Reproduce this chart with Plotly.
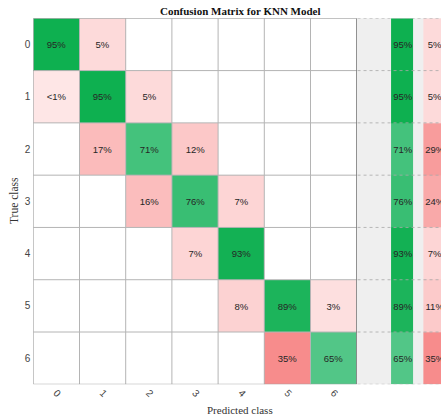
import plotly.graph_objects as go

# Class labels (true rows / predicted columns)
classes = ["0", "1", "2", "3", "4", "5", "6"]

# Row-normalised confusion matrix in percent (None = no samples)
cm_pct = [
    [95, 5, None, None, None, None, None],
    [0.5, 95, 5, None, None, None, None],
    [None, 17, 71, 12, None, None, None],
    [None, None, 16, 76, 7, None, None],
    [None, None, None, 7, 93, None, None],
    [None, None, None, None, 8, 89, 3],
    [None, None, None, None, None, 35, 65],
]

# Row summary: correctly / incorrectly classified share per true class
row_correct = [95, 95, 71, 76, 93, 89, 65]
row_incorrect = [5, 5, 29, 24, 7, 11, 35]

W, H = 441, 419
n = len(classes)


def pct_label(v):
    if v is None:
        return ""
    return "<1%" if v < 1 else f"{round(v)}%"


diag_z = [[v if i == j else None for j, v in enumerate(row)] for i, row in enumerate(cm_pct)]
off_z = [[v if i != j else None for j, v in enumerate(row)] for i, row in enumerate(cm_pct)]
diag_t = [[pct_label(v) for v in row] for row in diag_z]
off_t = [[pct_label(v) for v in row] for row in off_z]

green_scale = [
    [0.0, "rgb(235,247,240)"],
    [0.65, "rgb(82,198,135)"],
    [0.95, "rgb(14,176,80)"],
    [1.0, "rgb(8,172,74)"],
]
red_scale = [
    [0.0, "rgb(254,231,231)"],
    [1.0, "rgb(247,140,140)"],
]

cell_font = dict(family="Liberation Sans, Arial", size=9.5, color="#262626")
idx = list(range(n))

fig = go.Figure()

# Main matrix: diagonal (green) and off-diagonal (red) cells
fig.add_trace(go.Heatmap(
    x=idx, y=idx, z=diag_z, text=diag_t, texttemplate="%{text}",
    textfont=cell_font, colorscale=green_scale, zmin=0, zmax=100,
    showscale=False, hoverinfo="skip", xaxis="x", yaxis="y",
))
fig.add_trace(go.Heatmap(
    x=idx, y=idx, z=off_z, text=off_t, texttemplate="%{text}",
    textfont=cell_font, colorscale=red_scale, zmin=0, zmax=35,
    showscale=False, hoverinfo="skip", xaxis="x", yaxis="y",
))

# Row summary columns
fig.add_trace(go.Heatmap(
    x=[0], y=idx, z=[[v] for v in row_correct],
    text=[[pct_label(v)] for v in row_correct], texttemplate="%{text}",
    textfont=cell_font, colorscale=green_scale, zmin=0, zmax=100,
    xgap=10, showscale=False, hoverinfo="skip", xaxis="x2", yaxis="y2",
))
fig.add_trace(go.Heatmap(
    x=[1], y=idx, z=[[v] for v in row_incorrect],
    text=[[pct_label(v)] for v in row_incorrect], texttemplate="%{text}",
    textfont=cell_font, colorscale=red_scale, zmin=0, zmax=35,
    xgap=10, showscale=False, hoverinfo="skip", xaxis="x2", yaxis="y2",
))

# Layout geometry (pixels)
mx0, mx1 = 33.3, 356.7
my0, my1 = 18.3, 384.3
y_dom = [(H - my1) / H, (H - my0) / H]
pitch = 32.3
green_center = 402.2

shapes = []
# summary panel background
shapes.append(dict(type="rect", xref="x2 domain", yref="y2 domain", x0=0, x1=1, y0=0, y1=1,
                   fillcolor="#efefef", line=dict(width=0), layer="below"))
# inner grid of the matrix
for k in range(1, n):
    shapes.append(dict(type="line", xref="x", yref="y", x0=k - 0.5, x1=k - 0.5, y0=-0.5, y1=n - 0.5,
                       line=dict(color="#b4b4b4", width=1)))
    shapes.append(dict(type="line", xref="x", yref="y", x0=-0.5, x1=n - 0.5, y0=k - 0.5, y1=k - 0.5,
                       line=dict(color="#b4b4b4", width=1)))
# matrix border
shapes.append(dict(type="line", xref="x", yref="y", x0=-0.5, x1=-0.5, y0=-0.5, y1=n - 0.5,
                   line=dict(color="#999999", width=1)))
shapes.append(dict(type="line", xref="x", yref="y", x0=-0.5, x1=n - 0.5, y0=-0.5, y1=-0.5,
                   line=dict(color="#999999", width=1)))
shapes.append(dict(type="line", xref="x", yref="y", x0=-0.5, x1=n - 0.5, y0=n - 0.5, y1=n - 0.5,
                   line=dict(color="#999999", width=1)))
shapes.append(dict(type="line", xref="x", yref="y", x0=n - 0.5, x1=n - 0.5, y0=-0.5, y1=n - 0.5,
                   line=dict(color="#555555", width=1.2)))
# dotted row separators in the summary panel
for k in range(n + 1):
    shapes.append(dict(type="line", xref="x2 domain", yref="y2", x0=0.01, x1=1, y0=k - 0.5, y1=k - 0.5,
                       line=dict(color="#a8a8a8", width=0.8, dash="dot")))

serif = "Liberation Serif, Times New Roman, serif"
annotations = [
    dict(text="<b>Confusion Matrix for KNN Model</b>", x=240 / W, y=1 - 10.5 / H, xref="paper", yref="paper",
         showarrow=False, xanchor="center", yanchor="middle", font=dict(family=serif, size=11, color="#111")),
    dict(text="Predicted class", x=240 / W, y=1 - 409.5 / H, xref="paper", yref="paper",
         showarrow=False, xanchor="center", yanchor="middle", font=dict(family=serif, size=11, color="#333")),
    dict(text="True class", x=14 / W, y=1 - 201 / H, xref="paper", yref="paper", textangle=-90,
         showarrow=False, xanchor="center", yanchor="middle", font=dict(family=serif, size=11.5, color="#333")),
]

tick_font = dict(family="Liberation Sans, Arial", size=10, color="#444")

fig.update_layout(
    width=W, height=H, autosize=False,
    margin=dict(l=0, r=0, t=0, b=0),
    paper_bgcolor="white", plot_bgcolor="white",
    showlegend=False,
    shapes=shapes, annotations=annotations,
    xaxis=dict(domain=[mx0 / W, mx1 / W], range=[-0.5, n - 0.5], tickvals=idx, ticktext=classes,
               tickangle=45, ticks="", showgrid=False, zeroline=False, showline=False,
               tickfont=tick_font, automargin=False, fixedrange=True),
    yaxis=dict(domain=y_dom, range=[n - 0.5, -0.5], tickvals=idx, ticktext=classes,
               ticks="", showgrid=False, zeroline=False, showline=False, ticklabelstandoff=2,
               tickfont=tick_font, automargin=False, fixedrange=True),
    xaxis2=dict(domain=[mx1 / W, 1.0], anchor="y2",
                range=[-(green_center - mx1) / pitch, (W - green_center) / pitch],
                showticklabels=False, ticks="", showgrid=False, zeroline=False, showline=False,
                automargin=False, fixedrange=True),
    yaxis2=dict(domain=y_dom, anchor="x2", range=[n - 0.5, -0.5], showticklabels=False, ticks="",
                showgrid=False, zeroline=False, showline=False, automargin=False, fixedrange=True),
)

fig.write_html("out.html")
